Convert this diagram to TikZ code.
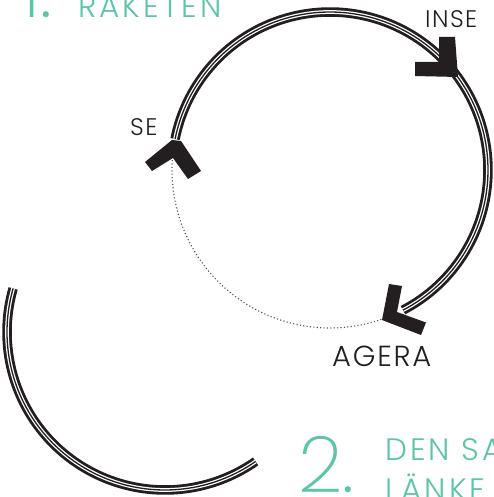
\documentclass[tikz,border=0pt]{standalone}
\usepackage{fontspec}
\setmainfont{Poppins Light}
\newfontfamily\numfont{Poppins ExtraLight}
\definecolor{teal1}{RGB}{92,196,168}
\definecolor{ink}{RGB}{35,31,32}
\tikzset{
  tri/.style={line width=9.5pt, draw=ink, line cap=butt,
    postaction={draw=white, line width=3.8pt},
    postaction={draw=ink, line width=1.3pt}},
  dots/.style={draw=ink!80, line width=1.1pt, dash pattern=on 1.1pt off 2.3pt},
  title/.style={anchor=base west, inner sep=0pt, text=teal1, font=\fontsize{31}{31}\selectfont\addfontfeatures{LetterSpace=10}},
  bignum/.style={anchor=base west, inner sep=0pt, text=teal1, font=\numfont\fontsize{78}{78}\selectfont},
  lab/.style={anchor=base west, inner sep=0pt, text=ink},
  chev/.style={fill=ink}
}
\begin{document}
\begin{tikzpicture}[x=1pt,y=-1pt]
\useasboundingbox (0,0) rectangle (493,497);
% main circle: centre (330,170), radius 158
\coordinate (c) at (330,170);
\coordinate (seTop) at (175,139);
\coordinate (seBot) at (173,160);
\coordinate (agEnd) at (403,311);
\coordinate (agTip) at (382,320);
% main arc SE -> INSE -> AGERA
\draw[tri] plot[domain=168.7:-62.5, samples=120] ({330+158*cos(\x)}, {170-158*sin(\x)});
% second arc (lower left)
\draw[tri] plot[domain=164:305, samples=80] ({165+158*cos(\x)}, {332-158*sin(\x)});
% dotted return AGERA -> SE
\draw[dots] plot[domain=-71:-184, samples=80] ({330+158*cos(\x)}, {170-158*sin(\x)});
% chevrons
\fill[chev] (439,37) -- (455,37) -- (458,77) -- (415,76) -- (415,62) -- (439,62) -- cycle;
\fill[chev] (172,140) -- (181,141) -- (201,171) -- (188,179) -- (173,158) -- (152,171) -- (145,162) -- cycle;
\fill[chev] (agTip) -- (389,284) -- (402,286) -- (397,312) -- (426,322.5) -- (421,335) -- cycle;
% labels
\node[lab, font=\fontsize{24}{24}\selectfont\addfontfeatures{LetterSpace=6}] (inse) at (425,28) {INSE};
\node[lab, font=\fontsize{24}{24}\selectfont\addfontfeatures{LetterSpace=6}] (se) at (130,136) {SE};
\node[lab, font=\fontsize{29}{29}\selectfont\addfontfeatures{LetterSpace=6}] (agera) at (332,366) {AGERA};
% titles
\node[bignum] (one) at (20,18) {1.};
\node[title] (t1) at (78,18) {RAKETEN};
\node[bignum] (two) at (298,492) {2.};
\node[title] (t2a) at (385,460) {DEN SA};
\node[title] (t2b) at (385,500) {LÄNKE};
\end{tikzpicture}
\end{document}
